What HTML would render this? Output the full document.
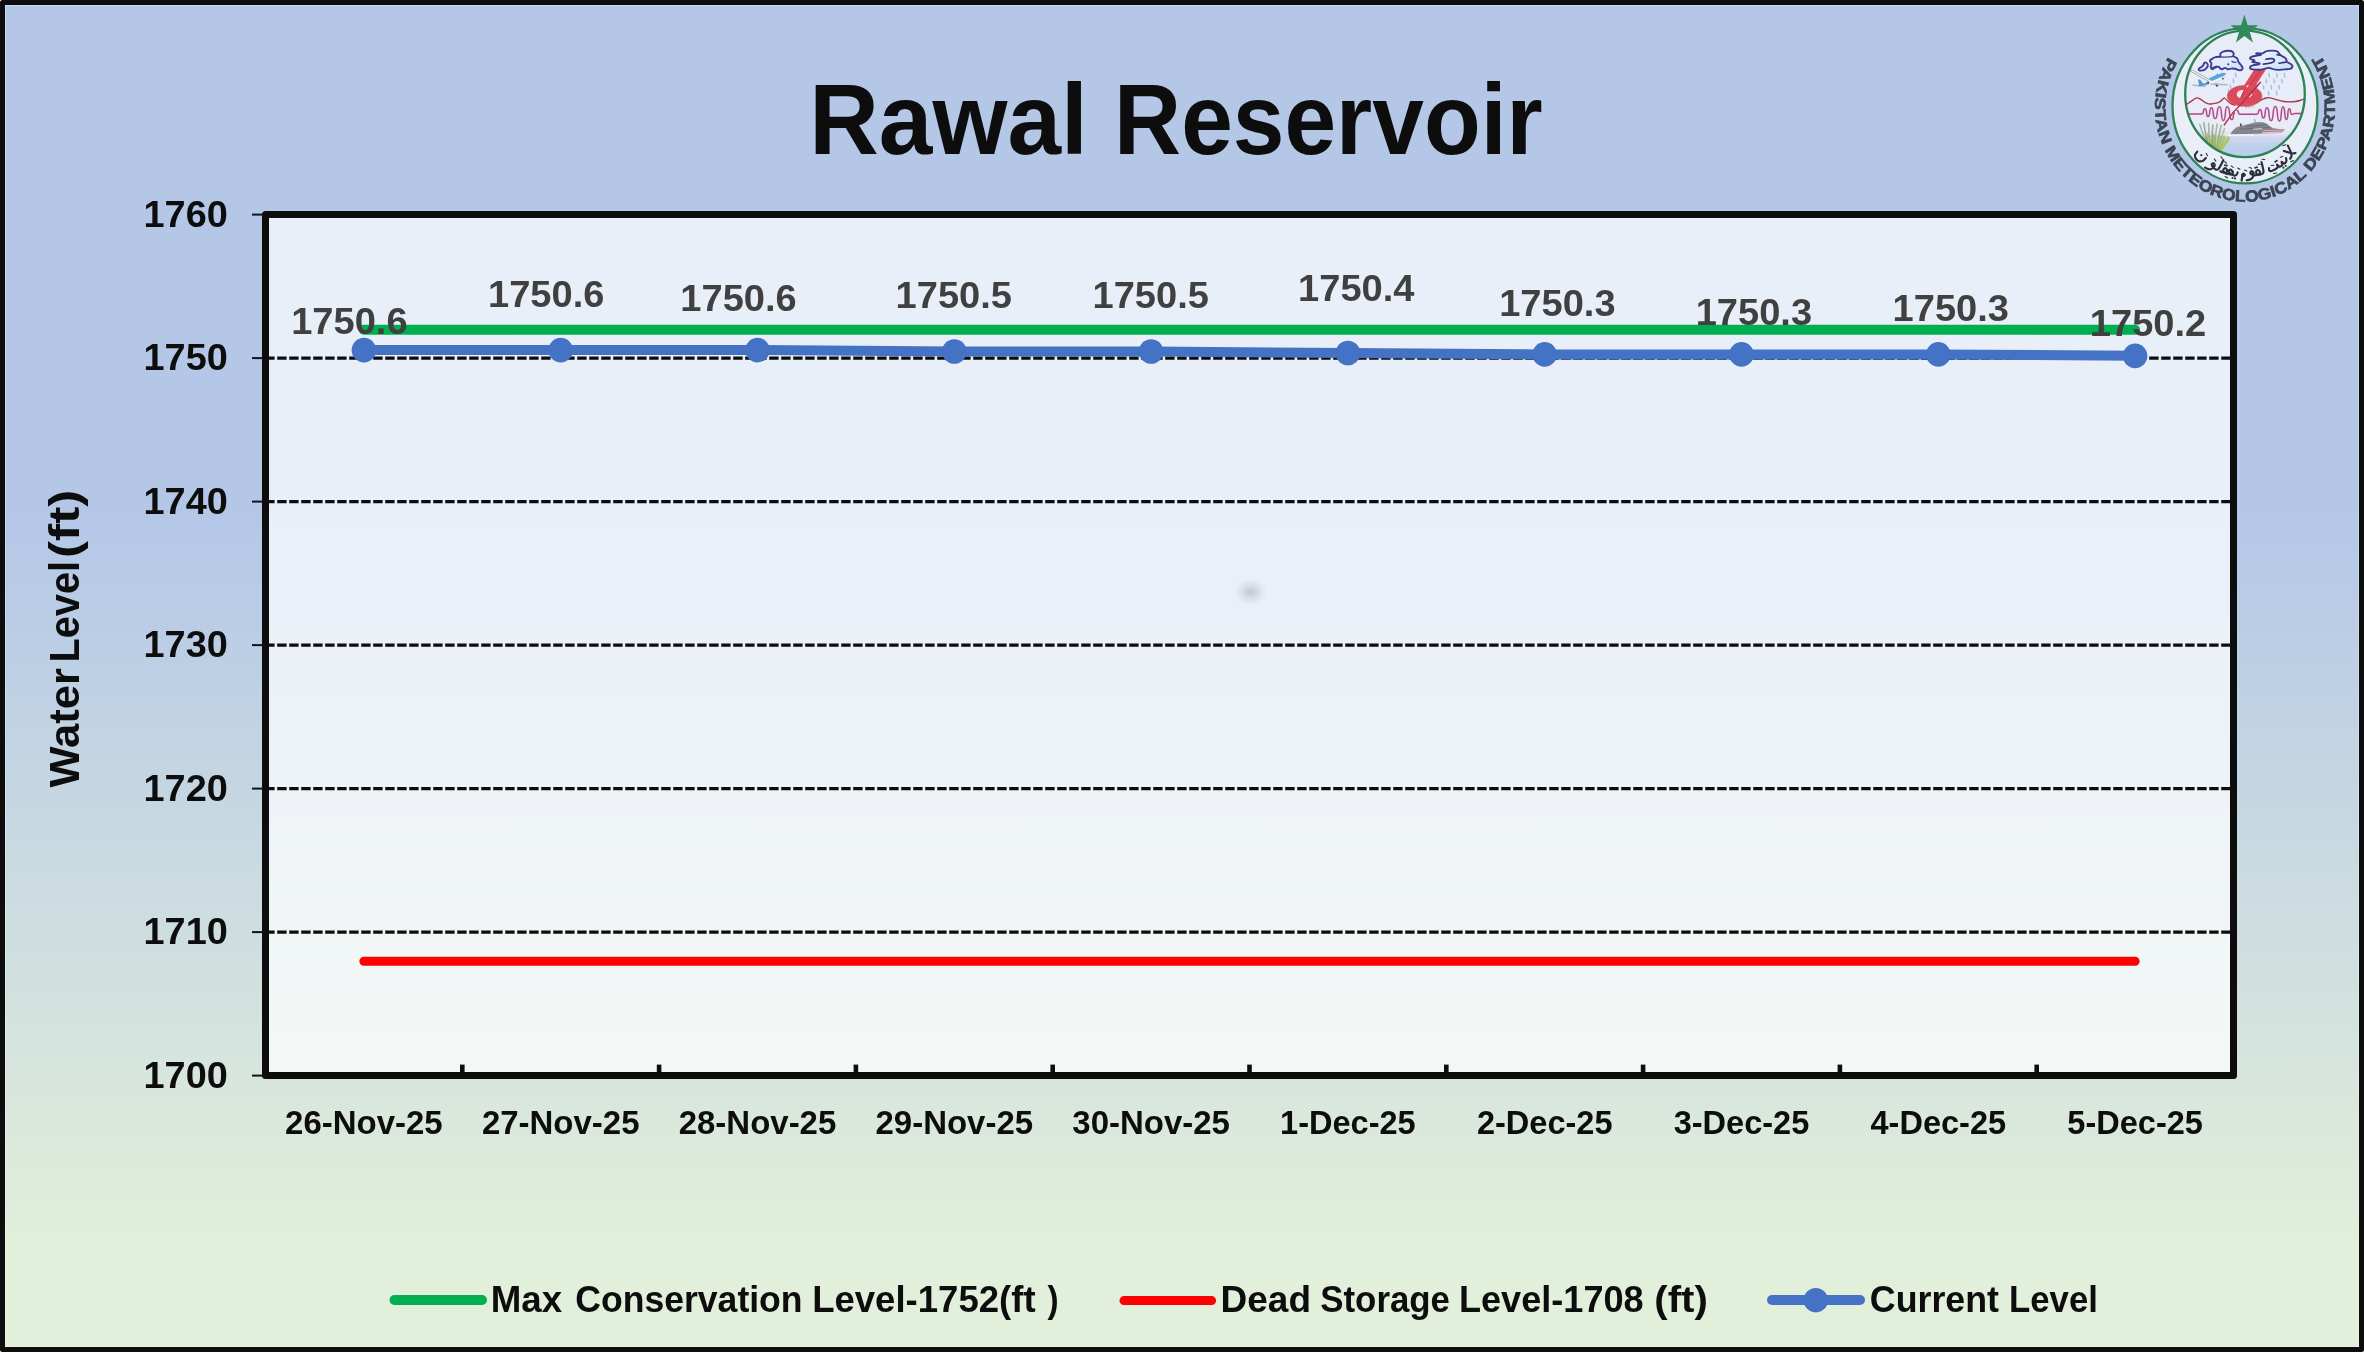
<!DOCTYPE html>
<html lang="en"><head><meta charset="utf-8"><title>Rawal Reservoir</title>
<style>
html,body{margin:0;padding:0;background:#0d0d0d;}
body{width:2364px;height:1352px;overflow:hidden;font-family:"Liberation Sans", sans-serif;}
svg{display:block;will-change:transform;}
text{font-family:"Liberation Sans", sans-serif;font-weight:bold;}
</style></head><body>
<svg width="2364" height="1352" viewBox="0 0 2364 1352">
<defs>
<linearGradient id="bg" x1="0" y1="0" x2="0" y2="1">
<stop offset="0" stop-color="#b4c7e7"/>
<stop offset="0.38" stop-color="#b4c7e7"/>
<stop offset="0.93" stop-color="#e2efda"/>
<stop offset="1" stop-color="#e2efda"/>
</linearGradient>
<radialGradient id="smudge" cx="0.5" cy="0.5" r="0.5">
<stop offset="0" stop-color="#a9adb8" stop-opacity="0.62"/>
<stop offset="0.45" stop-color="#b4b8c4" stop-opacity="0.36"/>
<stop offset="1" stop-color="#c8ccd6" stop-opacity="0"/>
</radialGradient>
<filter id="blur3" x="-5%" y="-5%" width="110%" height="110%"><feGaussianBlur stdDeviation="0.3"/></filter>
<filter id="blur7" x="-20%" y="-20%" width="140%" height="140%"><feGaussianBlur stdDeviation="0.7"/></filter>
<filter id="blur4" x="-5%" y="-5%" width="110%" height="110%"><feGaussianBlur stdDeviation="0.42"/></filter>
<clipPath id="innerclip"><ellipse cx="2245" cy="93.9" rx="59.8" ry="63.3"/></clipPath>
<linearGradient id="water" x1="0" y1="0" x2="0" y2="1">
<stop offset="0" stop-color="#d6d9ee"/>
<stop offset="0.5" stop-color="#bcd0ec"/>
<stop offset="1" stop-color="#b4ceec"/>
</linearGradient>
<linearGradient id="cloudfill" x1="0" y1="0" x2="1" y2="1">
<stop offset="0" stop-color="#eef2fd"/>
<stop offset="0.55" stop-color="#dfeafa"/>
<stop offset="1" stop-color="#c2e0f5"/>
</linearGradient>
</defs>

<rect x="0" y="0" width="2364" height="1352" fill="#ffffff"/>
<rect x="0" y="0" width="2364" height="1352" rx="2.5" fill="#0d0d0d"/>
<rect x="5" y="5" width="2354" height="1342" fill="url(#bg)"/>
<rect x="5.5" y="5.5" width="2353" height="1341" fill="none" stroke="#ffffff" stroke-opacity="0.28" stroke-width="1"/>
<rect x="265.5" y="214.6" width="1968.0" height="860.9999999999999" fill="#ffffff" fill-opacity="0.71"/>
<line x1="265.2" y1="358.10" x2="2230.0" y2="358.10" stroke="#0d0d0d" stroke-width="3.2" stroke-dasharray="9.4 2.6"/>
<line x1="265.2" y1="501.60" x2="2230.0" y2="501.60" stroke="#0d0d0d" stroke-width="3.2" stroke-dasharray="9.4 2.6"/>
<line x1="265.2" y1="645.10" x2="2230.0" y2="645.10" stroke="#0d0d0d" stroke-width="3.2" stroke-dasharray="9.4 2.6"/>
<line x1="265.2" y1="788.60" x2="2230.0" y2="788.60" stroke="#0d0d0d" stroke-width="3.2" stroke-dasharray="9.4 2.6"/>
<line x1="265.2" y1="932.10" x2="2230.0" y2="932.10" stroke="#0d0d0d" stroke-width="3.2" stroke-dasharray="9.4 2.6"/>
<ellipse cx="1250.6" cy="592" rx="17" ry="14" fill="url(#smudge)"/>
<rect x="265.5" y="214.6" width="1968.0" height="860.9999999999999" fill="none" stroke="#0d0d0d" stroke-width="7" stroke-linejoin="round"/>
<line x1="252" y1="1075.60" x2="263" y2="1075.60" stroke="#10131c" stroke-width="2"/>
<line x1="252" y1="932.10" x2="263" y2="932.10" stroke="#10131c" stroke-width="2"/>
<line x1="252" y1="788.60" x2="263" y2="788.60" stroke="#10131c" stroke-width="2"/>
<line x1="252" y1="645.10" x2="263" y2="645.10" stroke="#10131c" stroke-width="2"/>
<line x1="252" y1="501.60" x2="263" y2="501.60" stroke="#10131c" stroke-width="2"/>
<line x1="252" y1="358.10" x2="263" y2="358.10" stroke="#10131c" stroke-width="2"/>
<line x1="252" y1="214.60" x2="263" y2="214.60" stroke="#10131c" stroke-width="2"/>
<line x1="462.30" y1="1064.6" x2="462.30" y2="1073" stroke="#0d0d0d" stroke-width="4.6"/>
<line x1="659.10" y1="1064.6" x2="659.10" y2="1073" stroke="#0d0d0d" stroke-width="4.6"/>
<line x1="855.90" y1="1064.6" x2="855.90" y2="1073" stroke="#0d0d0d" stroke-width="4.6"/>
<line x1="1052.70" y1="1064.6" x2="1052.70" y2="1073" stroke="#0d0d0d" stroke-width="4.6"/>
<line x1="1249.50" y1="1064.6" x2="1249.50" y2="1073" stroke="#0d0d0d" stroke-width="4.6"/>
<line x1="1446.30" y1="1064.6" x2="1446.30" y2="1073" stroke="#0d0d0d" stroke-width="4.6"/>
<line x1="1643.10" y1="1064.6" x2="1643.10" y2="1073" stroke="#0d0d0d" stroke-width="4.6"/>
<line x1="1839.90" y1="1064.6" x2="1839.90" y2="1073" stroke="#0d0d0d" stroke-width="4.6"/>
<line x1="2036.70" y1="1064.6" x2="2036.70" y2="1073" stroke="#0d0d0d" stroke-width="4.6"/>
<line x1="363.90" y1="329.80" x2="2135.10" y2="329.80" stroke="#00b050" stroke-width="10" stroke-linecap="round"/>
<line x1="363.90" y1="961.30" x2="2135.10" y2="961.30" stroke="#ff0000" stroke-width="9" stroke-linecap="round"/>
<polyline fill="none" stroke="#4472c4" stroke-width="10" stroke-linecap="round" stroke-linejoin="round" points="363.90,350.09 560.70,350.09 757.50,350.09 954.30,351.52 1151.10,351.52 1347.90,352.96 1544.70,354.40 1741.50,354.40 1938.30,354.40 2135.10,355.83"/>
<circle cx="363.90" cy="350.09" r="12.3" fill="#4472c4"/>
<circle cx="560.70" cy="350.09" r="12.3" fill="#4472c4"/>
<circle cx="757.50" cy="350.09" r="12.3" fill="#4472c4"/>
<circle cx="954.30" cy="351.52" r="12.3" fill="#4472c4"/>
<circle cx="1151.10" cy="351.52" r="12.3" fill="#4472c4"/>
<circle cx="1347.90" cy="352.96" r="12.3" fill="#4472c4"/>
<circle cx="1544.70" cy="354.40" r="12.3" fill="#4472c4"/>
<circle cx="1741.50" cy="354.40" r="12.3" fill="#4472c4"/>
<circle cx="1938.30" cy="354.40" r="12.3" fill="#4472c4"/>
<circle cx="2135.10" cy="355.83" r="12.3" fill="#4472c4"/>
<text x="809.24" y="154.20" font-size="100.3" fill="#0d0d0d" text-anchor="start" textLength="278.57" lengthAdjust="spacingAndGlyphs">Rawal</text>
<text x="1114.08" y="154.20" font-size="100.3" fill="#0d0d0d" text-anchor="start" textLength="428.54" lengthAdjust="spacingAndGlyphs">Reservoir</text>
<text x="227.80" y="1087.60" font-size="37.6" fill="#0d0d0d" text-anchor="end" textLength="84.30" lengthAdjust="spacingAndGlyphs">1700</text>
<text x="227.80" y="944.10" font-size="37.6" fill="#0d0d0d" text-anchor="end" textLength="84.30" lengthAdjust="spacingAndGlyphs">1710</text>
<text x="227.80" y="800.60" font-size="37.6" fill="#0d0d0d" text-anchor="end" textLength="84.30" lengthAdjust="spacingAndGlyphs">1720</text>
<text x="227.80" y="657.10" font-size="37.6" fill="#0d0d0d" text-anchor="end" textLength="84.30" lengthAdjust="spacingAndGlyphs">1730</text>
<text x="227.80" y="513.60" font-size="37.6" fill="#0d0d0d" text-anchor="end" textLength="84.30" lengthAdjust="spacingAndGlyphs">1740</text>
<text x="227.80" y="370.10" font-size="37.6" fill="#0d0d0d" text-anchor="end" textLength="84.30" lengthAdjust="spacingAndGlyphs">1750</text>
<text x="227.80" y="226.60" font-size="37.6" fill="#0d0d0d" text-anchor="end" textLength="84.30" lengthAdjust="spacingAndGlyphs">1760</text>
<text x="363.90" y="1133.80" font-size="33" fill="#0d0d0d" text-anchor="middle" textLength="157.60" lengthAdjust="spacingAndGlyphs">26-Nov-25</text>
<text x="560.70" y="1133.80" font-size="33" fill="#0d0d0d" text-anchor="middle" textLength="157.60" lengthAdjust="spacingAndGlyphs">27-Nov-25</text>
<text x="757.50" y="1133.80" font-size="33" fill="#0d0d0d" text-anchor="middle" textLength="157.60" lengthAdjust="spacingAndGlyphs">28-Nov-25</text>
<text x="954.30" y="1133.80" font-size="33" fill="#0d0d0d" text-anchor="middle" textLength="157.60" lengthAdjust="spacingAndGlyphs">29-Nov-25</text>
<text x="1151.10" y="1133.80" font-size="33" fill="#0d0d0d" text-anchor="middle" textLength="157.60" lengthAdjust="spacingAndGlyphs">30-Nov-25</text>
<text x="1347.90" y="1133.80" font-size="33" fill="#0d0d0d" text-anchor="middle" textLength="135.60" lengthAdjust="spacingAndGlyphs">1-Dec-25</text>
<text x="1544.70" y="1133.80" font-size="33" fill="#0d0d0d" text-anchor="middle" textLength="135.60" lengthAdjust="spacingAndGlyphs">2-Dec-25</text>
<text x="1741.50" y="1133.80" font-size="33" fill="#0d0d0d" text-anchor="middle" textLength="135.60" lengthAdjust="spacingAndGlyphs">3-Dec-25</text>
<text x="1938.30" y="1133.80" font-size="33" fill="#0d0d0d" text-anchor="middle" textLength="135.60" lengthAdjust="spacingAndGlyphs">4-Dec-25</text>
<text x="2135.10" y="1133.80" font-size="33" fill="#0d0d0d" text-anchor="middle" textLength="135.60" lengthAdjust="spacingAndGlyphs">5-Dec-25</text>
<text x="349.40" y="333.90" font-size="37" fill="#404040" text-anchor="middle" textLength="116.40" lengthAdjust="spacingAndGlyphs">1750.6</text>
<text x="546.20" y="306.90" font-size="37" fill="#404040" text-anchor="middle" textLength="116.40" lengthAdjust="spacingAndGlyphs">1750.6</text>
<text x="738.50" y="310.90" font-size="37" fill="#404040" text-anchor="middle" textLength="116.40" lengthAdjust="spacingAndGlyphs">1750.6</text>
<text x="953.80" y="308.00" font-size="37" fill="#404040" text-anchor="middle" textLength="116.40" lengthAdjust="spacingAndGlyphs">1750.5</text>
<text x="1150.70" y="308.00" font-size="37" fill="#404040" text-anchor="middle" textLength="116.40" lengthAdjust="spacingAndGlyphs">1750.5</text>
<text x="1356.30" y="300.80" font-size="37" fill="#404040" text-anchor="middle" textLength="116.40" lengthAdjust="spacingAndGlyphs">1750.4</text>
<text x="1557.40" y="315.80" font-size="37" fill="#404040" text-anchor="middle" textLength="116.40" lengthAdjust="spacingAndGlyphs">1750.3</text>
<text x="1753.90" y="325.00" font-size="37" fill="#404040" text-anchor="middle" textLength="116.40" lengthAdjust="spacingAndGlyphs">1750.3</text>
<text x="1950.80" y="320.80" font-size="37" fill="#404040" text-anchor="middle" textLength="116.40" lengthAdjust="spacingAndGlyphs">1750.3</text>
<text x="2148.00" y="335.70" font-size="37" fill="#404040" text-anchor="middle" textLength="116.40" lengthAdjust="spacingAndGlyphs">1750.2</text>
<text transform="translate(78.9,788) rotate(-90)" x="0.56" y="0" font-size="43.2" fill="#0d0d0d" textLength="119.31" lengthAdjust="spacingAndGlyphs">Water</text>
<text transform="translate(78.9,788) rotate(-90)" x="125.44" y="0" font-size="43.2" fill="#0d0d0d" textLength="101.67" lengthAdjust="spacingAndGlyphs">Level</text>
<text transform="translate(78.9,788) rotate(-90)" x="230.04" y="0" font-size="43.2" fill="#0d0d0d" textLength="68.33" lengthAdjust="spacingAndGlyphs">(ft)</text>
<line x1="394.5" y1="1300" x2="482" y2="1300" stroke="#00b050" stroke-width="10" stroke-linecap="round"/>
<text x="490.74" y="1311.70" font-size="36.6" fill="#0d0d0d" text-anchor="start" textLength="71.34" lengthAdjust="spacingAndGlyphs">Max</text>
<text x="575.34" y="1311.70" font-size="36.6" fill="#0d0d0d" text-anchor="start" textLength="227.25" lengthAdjust="spacingAndGlyphs">Conservation</text>
<text x="812.15" y="1311.70" font-size="36.6" fill="#0d0d0d" text-anchor="start" textLength="223.48" lengthAdjust="spacingAndGlyphs">Level-1752(ft</text>
<text x="1047.57" y="1311.70" font-size="36.6" fill="#0d0d0d" text-anchor="start" textLength="11.10" lengthAdjust="spacingAndGlyphs">)</text>
<line x1="1124" y1="1300.6" x2="1211.6" y2="1300.6" stroke="#ff0000" stroke-width="9" stroke-linecap="round"/>
<text x="1220.62" y="1311.70" font-size="36.6" fill="#0d0d0d" text-anchor="start" textLength="90.41" lengthAdjust="spacingAndGlyphs">Dead</text>
<text x="1320.29" y="1311.70" font-size="36.6" fill="#0d0d0d" text-anchor="start" textLength="129.70" lengthAdjust="spacingAndGlyphs">Storage</text>
<text x="1458.98" y="1311.70" font-size="36.6" fill="#0d0d0d" text-anchor="start" textLength="184.73" lengthAdjust="spacingAndGlyphs">Level-1708</text>
<text x="1654.29" y="1311.70" font-size="36.6" fill="#0d0d0d" text-anchor="start" textLength="53.52" lengthAdjust="spacingAndGlyphs">(ft)</text>
<line x1="1772" y1="1300" x2="1860" y2="1300" stroke="#4472c4" stroke-width="10" stroke-linecap="round"/>
<circle cx="1815.8" cy="1300.2" r="12.2" fill="#4472c4"/>
<text x="1869.83" y="1311.70" font-size="36.6" fill="#0d0d0d" text-anchor="start" textLength="129.19" lengthAdjust="spacingAndGlyphs">Current</text>
<text x="2009.07" y="1311.70" font-size="36.6" fill="#0d0d0d" text-anchor="start" textLength="88.88" lengthAdjust="spacingAndGlyphs">Level</text>
<g id="logo">
<g transform="translate(2245,106.7) scale(1,1.055)">
<path id="ringpath" d="M-76.74,-47.02A90,90 0 1 0 75.48,-49.02" fill="none"/>
<text font-size="15" fill="#3a4453" stroke="#3a4453" stroke-width="0.6" filter="url(#blur3)"><textPath href="#ringpath" startOffset="0" textLength="384" lengthAdjust="spacingAndGlyphs">PAKISTAN METEOROLOGICAL DEPARTMENT</textPath></text>
</g>
<ellipse cx="2245" cy="105.8" rx="72.5" ry="77.6" fill="#eef1f9" fill-opacity="0.93" stroke="#2c8254" stroke-width="2.3"/>
<ellipse cx="2245" cy="93.9" rx="59.8" ry="63.3" fill="#e8ecf8"/>
<g clip-path="url(#innerclip)"><g filter="url(#blur4)">
<rect x="2180" y="135.5" width="130" height="24" fill="url(#water)"/>
<rect x="2180" y="131" width="130" height="6" fill="#dcdff0" fill-opacity="0.6"/>
<g filter="url(#blur7)">
<path d="M2204,138C2208,134 2222,134 2229,139C2228,144 2222,150 2216,152C2210,150 2205,144 2204,138Z" fill="#a9bf6a" fill-opacity="0.45"/>
<path d="M2206.5,142Q2202,133 2199.8,124.5" fill="none" stroke="#93a383" stroke-width="1.5" stroke-linecap="round" stroke-opacity="0.7"/>
<path d="M2208.5,146Q2205,134 2203.8,122.8" fill="none" stroke="#7f9470" stroke-width="1.6" stroke-linecap="round" stroke-opacity="0.7"/>
<path d="M2210.5,148Q2208.5,136 2208.6,123.4" fill="none" stroke="#8a9c7c" stroke-width="1.6" stroke-linecap="round" stroke-opacity="0.7"/>
<path d="M2212.5,149.5Q2211.5,137 2212.8,125" fill="none" stroke="#7d9468" stroke-width="1.7" stroke-linecap="round" stroke-opacity="0.7"/>
<path d="M2214.5,150.5Q2214.5,138 2217.2,124" fill="none" stroke="#8ea27c" stroke-width="1.6" stroke-linecap="round" stroke-opacity="0.7"/>
<path d="M2216.5,151Q2217.5,139 2221.2,125.5" fill="none" stroke="#86996f" stroke-width="1.6" stroke-linecap="round" stroke-opacity="0.7"/>
<path d="M2218,150.5Q2220,140 2224.6,128.5" fill="none" stroke="#94a884" stroke-width="1.5" stroke-linecap="round" stroke-opacity="0.7"/>
<path d="M2212,150Q2210,141 2207,134" fill="none" stroke="#a2bb58" stroke-width="2.2" stroke-linecap="round" stroke-opacity="0.7"/>
<path d="M2215,151Q2214,143 2213,135" fill="none" stroke="#9ab455" stroke-width="2.4" stroke-linecap="round" stroke-opacity="0.7"/>
<path d="M2218,151Q2218.5,144 2219.5,136.5" fill="none" stroke="#a8c052" stroke-width="2.6" stroke-linecap="round" stroke-opacity="0.7"/>
<path d="M2220.5,150Q2222,143 2224.5,137" fill="none" stroke="#a4bc58" stroke-width="2.2" stroke-linecap="round" stroke-opacity="0.7"/>
<path d="M2222,148.5Q2225.5,143 2229,138.5" fill="none" stroke="#aac44e" stroke-width="2.8" stroke-linecap="round" stroke-opacity="0.7"/>
<path d="M2223,146.5Q2226.5,141 2228,136.5" fill="none" stroke="#b3c860" stroke-width="2.0" stroke-linecap="round" stroke-opacity="0.7"/>
</g>
<path d="M2231,133.6L2233,130.6L2236.5,127.6L2243,125.8L2249.1,124.3L2254,123L2259.8,122.3L2264,122.7L2266.8,124.1L2270,126.6L2272.8,128.4L2278,129.3L2284.9,129.7L2281.2,132.5L2262,133.3L2245,134.3L2231,134.9Z" fill="#80868b" stroke="#80868b" stroke-width="0.6" stroke-linejoin="round"/>
<path d="M2263,130.2L2284.9,129.7L2281.2,132.7L2262,133.5Z" fill="#dbc8d2"/>
<path d="M2262.6,131.5L2283,130.9" stroke="#c5525e" stroke-width="0.9" fill="none"/>
<path d="M2227.5,135.1L2254,134.9" stroke="#f3f4fa" stroke-width="1.7" fill="none"/>
<path d="M2253,128.9L2262.2,128.5" stroke="#e6e9ee" stroke-width="1.3" fill="none"/>
<path d="M2254.2,119L2255.6,122.6" stroke="#767c80" stroke-width="0.8" fill="none"/>
<path d="M2240.7,123.5L2240.9,126.4" stroke="#3c4148" stroke-width="1.5" fill="none"/>
<path d="M2246,126.6L2266,124.8M2240,129.2L2270,127.4" stroke="#5f6669" stroke-width="0.7" fill="none"/>
<path d="M2186,113.9C2198.32,113.9 2189.48,113.9 2201.8,113.9C2204.3,113.9 2202.5,108.7 2205,108.7C2207.34,108.7 2205.66,116.6 2208,116.6C2210.73,116.6 2208.77,107.7 2211.5,107.7C2214.23,107.7 2212.27,118.6 2215,118.6C2218.51,118.6 2215.99,106.8 2219.5,106.8C2222.54,106.8 2220.36,120.6 2223.4,120.6C2226.36,120.6 2224.24,106.8 2227.2,106.8C2230.94,106.8 2228.26,119.6 2232,119.6C2234.03,119.6 2232.57,113 2234.6,113" fill="none" stroke="#f8dcf0" stroke-width="3" stroke-linecap="round"/>
<path d="M2237.2,110.6C2238.99,110.6 2237.71,114.2 2239.5,114.2C2253.15,114.2 2243.35,114.2 2257,114.2C2259.34,114.2 2257.66,109.6 2260,109.6C2262.65,109.6 2260.75,118 2263.4,118C2266.21,118 2264.19,107.8 2267,107.8C2270.12,107.8 2267.88,120.6 2271,120.6C2274.35,120.6 2271.95,106.6 2275.3,106.6C2278.58,106.6 2276.22,121 2279.5,121C2282.23,121 2280.27,106.8 2283,106.8C2285.73,106.8 2283.77,119.4 2286.5,119.4C2288.61,119.4 2287.09,108.8 2289.2,108.8C2291.31,108.8 2289.79,114.4 2291.9,114.4C2294.32,114.4 2292.58,113.4 2295,113.4C2302.8,113.4 2297.2,113.4 2305,113.4" fill="none" stroke="#f8dcf0" stroke-width="3" stroke-linecap="round"/>
<path d="M2186,113.9C2198.32,113.9 2189.48,113.9 2201.8,113.9C2204.3,113.9 2202.5,108.7 2205,108.7C2207.34,108.7 2205.66,116.6 2208,116.6C2210.73,116.6 2208.77,107.7 2211.5,107.7C2214.23,107.7 2212.27,118.6 2215,118.6C2218.51,118.6 2215.99,106.8 2219.5,106.8C2222.54,106.8 2220.36,120.6 2223.4,120.6C2226.36,120.6 2224.24,106.8 2227.2,106.8C2230.94,106.8 2228.26,119.6 2232,119.6C2234.03,119.6 2232.57,113 2234.6,113" fill="none" stroke="#a3508a" stroke-width="1.5" stroke-linecap="round"/>
<path d="M2237.2,110.6C2238.99,110.6 2237.71,114.2 2239.5,114.2C2253.15,114.2 2243.35,114.2 2257,114.2C2259.34,114.2 2257.66,109.6 2260,109.6C2262.65,109.6 2260.75,118 2263.4,118C2266.21,118 2264.19,107.8 2267,107.8C2270.12,107.8 2267.88,120.6 2271,120.6C2274.35,120.6 2271.95,106.6 2275.3,106.6C2278.58,106.6 2276.22,121 2279.5,121C2282.23,121 2280.27,106.8 2283,106.8C2285.73,106.8 2283.77,119.4 2286.5,119.4C2288.61,119.4 2287.09,108.8 2289.2,108.8C2291.31,108.8 2289.79,114.4 2291.9,114.4C2294.32,114.4 2292.58,113.4 2295,113.4C2302.8,113.4 2297.2,113.4 2305,113.4" fill="none" stroke="#a3508a" stroke-width="1.5" stroke-linecap="round"/>
<path d="M2184.5,105.6C2185.25,105.13 2187.5,103.8 2189,102.8C2190.5,101.8 2192.13,100.43 2193.5,99.6C2194.87,98.77 2195.95,97.8 2197.2,97.8C2198.45,97.8 2199.7,98.83 2201,99.6C2202.3,100.37 2203.73,101.68 2205,102.4C2206.27,103.12 2207.27,103.68 2208.6,103.9C2209.93,104.12 2211.45,103.9 2213,103.7C2214.55,103.5 2216.48,103.25 2217.9,102.7C2219.32,102.15 2220.43,101.17 2221.5,100.4C2222.57,99.63 2223.3,98.03 2224.3,98.1C2225.3,98.17 2226.38,99.88 2227.5,100.8C2228.62,101.72 2229.75,102.87 2231,103.6C2232.25,104.33 2234.33,104.93 2235,105.2" fill="none" stroke="#a63a4c" stroke-width="1.35" stroke-linecap="round" stroke-linejoin="round"/>
<path d="M2256,102.6C2256.62,102.32 2258.53,101.47 2259.7,100.9C2260.87,100.33 2261.95,99.68 2263,99.2C2264.05,98.72 2265.08,98.27 2266,98C2266.92,97.73 2267.5,97.55 2268.5,97.6C2269.5,97.65 2270.75,97.97 2272,98.3C2273.25,98.63 2274.67,99.22 2276,99.6C2277.33,99.98 2278.67,100.28 2280,100.6C2281.33,100.92 2282.33,101.3 2284,101.5C2285.67,101.7 2288.1,101.8 2290,101.8C2291.9,101.8 2293.73,101.72 2295.4,101.5C2297.07,101.28 2298.4,100.95 2300,100.5C2301.6,100.05 2304.17,99.08 2305,98.8" fill="none" stroke="#a63a4c" stroke-width="1.35" stroke-linecap="round" stroke-linejoin="round"/>
<ellipse cx="2269.2" cy="75.2" rx="0.85" ry="2.7" fill="#a3c2e6" transform="rotate(-6 2269.2 75.2)"/>
<ellipse cx="2277" cy="75.2" rx="0.85" ry="2.7" fill="#a3c2e6" transform="rotate(-6 2277 75.2)"/>
<ellipse cx="2284.6" cy="75.2" rx="0.85" ry="2.7" fill="#a3c2e6" transform="rotate(-6 2284.6 75.2)"/>
<ellipse cx="2266.4" cy="81.2" rx="0.85" ry="2.7" fill="#a3c2e6" transform="rotate(-6 2266.4 81.2)"/>
<ellipse cx="2274.2" cy="81.2" rx="0.85" ry="2.7" fill="#a3c2e6" transform="rotate(-6 2274.2 81.2)"/>
<ellipse cx="2282" cy="81.2" rx="0.85" ry="2.7" fill="#a3c2e6" transform="rotate(-6 2282 81.2)"/>
<ellipse cx="2263.6" cy="87.2" rx="0.85" ry="2.7" fill="#a3c2e6" transform="rotate(-6 2263.6 87.2)"/>
<ellipse cx="2271.3" cy="87.2" rx="0.85" ry="2.7" fill="#a3c2e6" transform="rotate(-6 2271.3 87.2)"/>
<ellipse cx="2279.1" cy="87.2" rx="0.85" ry="2.7" fill="#a3c2e6" transform="rotate(-6 2279.1 87.2)"/>
<ellipse cx="2268.6" cy="93.2" rx="0.85" ry="2.7" fill="#a3c2e6" transform="rotate(-6 2268.6 93.2)"/>
<ellipse cx="2276.6" cy="93.2" rx="0.85" ry="2.7" fill="#a3c2e6" transform="rotate(-6 2276.6 93.2)"/>
<ellipse cx="2235.7" cy="75" rx="0.85" ry="2.7" fill="#a3c2e6" transform="rotate(-6 2235.7 75)"/>
<ellipse cx="2233.4" cy="81" rx="0.85" ry="2.7" fill="#a3c2e6" transform="rotate(-6 2233.4 81)"/>
<ellipse cx="2230.4" cy="86.6" rx="0.85" ry="2.7" fill="#a3c2e6" transform="rotate(-6 2230.4 86.6)"/>
<ellipse cx="2228.6" cy="91.4" rx="0.85" ry="2.7" fill="#a3c2e6" transform="rotate(-6 2228.6 91.4)"/>
<path d="M2220.4,56.8C2220.75,56.28 2219.93,54.5 2220.5,53.6C2221.07,52.7 2222.45,51.87 2223.8,51.4C2225.15,50.93 2227.17,50.77 2228.6,50.8C2230.03,50.83 2231.53,51.07 2232.4,51.6C2233.27,52.13 2233.65,53.22 2233.8,54C2233.95,54.78 2232.77,55.6 2233.3,56.3C2233.83,57 2236.15,57.3 2237,58.2C2237.85,59.1 2237.82,60.65 2238.4,61.7C2238.98,62.75 2239.8,63.48 2240.5,64.5C2241.2,65.52 2242.42,66.9 2242.6,67.8C2242.78,68.7 2242.28,69.52 2241.6,69.9C2240.92,70.28 2239.6,70.28 2238.5,70.1C2237.4,69.92 2236.18,69.05 2235,68.8C2233.82,68.55 2232.57,68.52 2231.4,68.6C2230.23,68.68 2229.07,69.42 2228,69.3C2226.93,69.18 2225.92,67.92 2225,67.9C2224.08,67.88 2223.28,69.08 2222.5,69.2C2221.72,69.32 2220.95,69.03 2220.3,68.6C2219.65,68.17 2219.48,66.75 2218.6,66.6C2217.72,66.45 2216.07,67.27 2215,67.7C2213.93,68.13 2212.92,69.32 2212.2,69.2C2211.48,69.08 2210.82,67.93 2210.7,67C2210.58,66.07 2211.63,64.63 2211.5,63.6C2211.37,62.57 2209.73,61.63 2209.9,60.8C2210.07,59.97 2211.57,59.2 2212.5,58.6C2213.43,58 2214.52,57.52 2215.5,57.2C2216.48,56.88 2217.58,56.77 2218.4,56.7C2219.22,56.63 2220.05,57.32 2220.4,56.8Z" fill="url(#cloudfill)" stroke="#3d3a92" stroke-width="1.9" stroke-linejoin="round"/>
<path d="M2220.6,56.9C2224,57.3 2230,57.1 2233.2,56.4" fill="none" stroke="#3f3b95" stroke-width="1.3"/>
<path d="M2211.3,67.6L2216.3,65.6L2219,66.8L2213,69Z" fill="#3f3b95"/>
<path d="M2231.9,61.2C2233.4,62.6 2234.8,62.7 2236,62.2" fill="none" stroke="#3f3b95" stroke-width="1.2" stroke-linecap="round"/>
<circle cx="2228.3" cy="64.2" r="0.95" fill="#2f3470"/>
<path d="M2198.8,68.8C2199.13,68.3 2200.3,67.73 2201,67.2C2201.7,66.67 2202.47,66.27 2203,65.6C2203.53,64.93 2203.77,63.73 2204.2,63.2C2204.63,62.67 2205.05,62.28 2205.6,62.4C2206.15,62.52 2207.13,63.3 2207.5,63.9C2207.87,64.5 2208.02,65.25 2207.8,66C2207.58,66.75 2206.83,67.7 2206.2,68.4C2205.57,69.1 2204.87,69.83 2204,70.2C2203.13,70.57 2201.83,70.6 2201,70.6C2200.17,70.6 2199.37,70.5 2199,70.2C2198.63,69.9 2198.47,69.3 2198.8,68.8Z" fill="#dfe6fb" stroke="#3d3a92" stroke-width="1.9" stroke-linejoin="round"/>
<path d="M2254.2,69.5L2265.9,69.5L2253.2,89.5L2242.5,88Z" fill="#da4a5c"/>
<path d="M2260.5,70.5L2247.5,88.5" stroke="#b8364a" stroke-width="0.9" fill="none"/>
<path d="M2250.8,68.8C2249.83,68.33 2249.83,67.38 2250.2,66.8C2250.57,66.22 2251.57,65.72 2253,65.3C2254.43,64.88 2257.75,64.65 2258.8,64.3C2259.85,63.95 2259.93,63.52 2259.3,63.2C2258.67,62.88 2256.17,62.6 2255,62.4C2253.83,62.2 2252.38,62.33 2252.3,62C2252.22,61.67 2254.82,60.93 2254.5,60.4C2254.18,59.87 2250.98,59.37 2250.4,58.8C2249.82,58.23 2250.07,57.5 2251,57C2251.93,56.5 2254.33,56.13 2256,55.8C2257.67,55.47 2260.92,55.3 2261,55C2261.08,54.7 2257.17,54.3 2256.5,54C2255.83,53.7 2255.97,53.3 2257,53.2C2258.03,53.1 2261.37,53.63 2262.7,53.4C2264.03,53.17 2264.17,52.22 2265,51.8C2265.83,51.38 2266.62,51.1 2267.7,50.9C2268.78,50.7 2270.2,50.6 2271.5,50.6C2272.8,50.6 2274.42,50.67 2275.5,50.9C2276.58,51.13 2277.37,51.52 2278,52C2278.63,52.48 2278.65,53.12 2279.3,53.8C2279.95,54.48 2281.03,55.5 2281.9,56.1C2282.77,56.7 2283.77,56.88 2284.5,57.4C2285.23,57.92 2285.88,58.43 2286.3,59.2C2286.72,59.97 2286.38,61.28 2287,62C2287.62,62.72 2289.12,62.9 2290,63.5C2290.88,64.1 2291.97,64.92 2292.3,65.6C2292.63,66.28 2292.38,67.07 2292,67.6C2291.62,68.13 2291.17,68.5 2290,68.8C2288.83,69.1 2286.67,69.23 2285,69.4C2283.33,69.57 2281.58,69.75 2280,69.8C2278.42,69.85 2276.83,69.9 2275.5,69.7C2274.17,69.5 2273.07,68.92 2272,68.6C2270.93,68.28 2270.1,67.83 2269.1,67.8C2268.1,67.77 2267.3,68.1 2266,68.4C2264.7,68.7 2262.97,69.4 2261.3,69.6C2259.63,69.8 2257.75,69.73 2256,69.6C2254.25,69.47 2251.77,69.27 2250.8,68.8Z" fill="url(#cloudfill)" stroke="#3a3a8c" stroke-width="1.85" stroke-linejoin="round"/>
<path d="M2265.9,59.3C2270,58.1 2274.6,58.5 2274.4,60.6C2274.1,62.9 2268,63.7 2263.4,64.2" fill="none" stroke="#34367e" stroke-width="1.7" stroke-linecap="round"/>
<path d="M2279,63.2L2286,62.1" fill="none" stroke="#34367e" stroke-width="1.6" stroke-linecap="round"/>
<path d="M2277,54.6L2279.6,55.2" fill="none" stroke="#34367e" stroke-width="1.6" stroke-linecap="round"/>
<ellipse cx="2244.6" cy="95.9" rx="17.5" ry="10.6" fill="#db4a5b"/>
<ellipse cx="2244.6" cy="95.9" rx="17.5" ry="10.6" fill="none" stroke="#c4705c" stroke-opacity="0.5" stroke-width="0.8"/>
<path d="M2242.5,88L2253.2,89.5L2249,96L2240,96Z" fill="#db4a5b"/>
<path d="M2236.9,93.2C2237.6,90.6 2241.6,89.4 2244.2,90.1L2240.6,97.9C2238,97.6 2236.2,95.6 2236.9,93.2Z" fill="#f6e6ee"/>
<path d="M2244.2,90.1L2240.6,97.9" stroke="#8c3040" stroke-width="0.9" fill="none"/>
<path d="M2251.6,93.7L2252.6,94.4L2249.8,97.6L2248.9,96.8Z" fill="#f8d8de"/>
<path d="M2246,86.6L2249,84.4L2247.6,87.4Z" fill="#f8d8de"/>
<path d="M2254.5,86.5L2260.6,82L2256.2,88.2Z" fill="#c43c50"/>
<path d="M2246,106.4L2246.6,108M2248.6,106.2L2249.2,107.8M2251,105.8L2251.8,107.4M2253.4,105.2L2254.2,106.6" stroke="#c05060" stroke-width="0.7" fill="none"/>
<path d="M2260.6,82.2L2240.8,104.4L2233.3,112.2L2224.2,125" fill="none" stroke="#b32c42" stroke-width="1.3" stroke-linecap="round" stroke-linejoin="round"/>
<path d="M2191.4,70.6L2217.2,85.2" stroke="#9b9ea4" stroke-width="2.6" stroke-linecap="round" fill="none"/>
<path d="M2191.8,70.7L2216.8,84.9" stroke="#f4f5f8" stroke-width="1.2" stroke-linecap="round" fill="none"/>
<path d="M2193.2,85.2L2205.5,86.3M2211,84L2227,84.7" stroke="#b4b6ba" stroke-width="1.6" stroke-linecap="round" fill="none"/>
<path d="M2198,79.4L2200.2,79.8L2203.4,83.8L2208,81.8L2209,84.2L2199.2,86.6Z" fill="#4f9bd6"/>
<path d="M2207,81.6L2224.6,75.4L2222.8,79.2L2212,83.8Z" fill="#f2f4f9" stroke="#c8ccd4" stroke-width="0.5"/>
<path d="M2208.6,78.4L2216,75L2217.4,73.4L2218.6,74.2L2222,72.7L2226.2,73.1L2224.6,75.6L2212,80.9Z" fill="#58a6e0"/>
<circle cx="2208.2" cy="82.5" r="0.9" fill="#2b3142"/><circle cx="2216.9" cy="85.7" r="0.9" fill="#2b3142"/><circle cx="2222.9" cy="78.6" r="0.85" fill="#2b3142"/>
</g></g>
<ellipse cx="2245" cy="93.9" rx="59.8" ry="63.3" fill="none" stroke="#2c8254" stroke-width="2.3"/>
<path d="M2244.4,14.4L2247.66,25.18L2258.19,25.18L2249.67,31.84L2252.92,42.62L2244.4,35.96L2235.88,42.62L2239.13,31.84L2230.61,25.18L2241.14,25.18Z" fill="#2f8a5a"/>
<path d="M2287.81,145.51C2288.27,146.49 2289.93,149.63 2290.55,151.4C2291.16,153.16 2291.56,154.89 2291.49,156.11C2291.43,157.33 2290.37,158.28 2290.15,158.72" fill="none" stroke="#2a2f38" stroke-width="2.15" stroke-linecap="round" stroke-linejoin="round"/>
<path d="M2283.85,150.94C2284.66,151.2 2287.26,152.09 2288.74,152.51C2290.22,152.93 2291.59,153.39 2292.71,153.47C2293.83,153.56 2294.99,153.09 2295.45,153.02" fill="none" stroke="#2a2f38" stroke-width="2.15" stroke-linecap="round" stroke-linejoin="round"/>
<path d="M2286.01,158.06C2286.07,158.56 2286.69,160.18 2286.37,161.1C2286.05,162.01 2284.89,163.45 2284.07,163.56C2283.26,163.66 2281.77,161.51 2281.47,161.72C2281.17,161.92 2282.59,164 2282.25,164.81C2281.91,165.62 2280.32,166.62 2279.44,166.57C2278.56,166.53 2277.31,164.34 2276.99,164.53C2276.67,164.71 2278.31,166.64 2277.52,167.67C2276.74,168.71 2273.63,170.23 2272.26,170.73C2270.88,171.23 2269.8,171.1 2269.27,170.68C2268.73,170.25 2269.1,168.59 2269.07,168.17" fill="none" stroke="#2a2f38" stroke-width="2.15" stroke-linecap="round" stroke-linejoin="round"/>
<path d="M2261.48,162.09C2261.73,163.14 2262.68,166.72 2263.02,168.41C2263.36,170.1 2263.63,171.33 2263.51,172.23C2263.38,173.14 2262.82,173.47 2262.26,173.83C2261.7,174.18 2260.49,174.27 2260.13,174.36" fill="none" stroke="#2a2f38" stroke-width="2.15" stroke-linecap="round" stroke-linejoin="round"/>
<path d="M2260.13,174.36C2260.07,173.86 2260.19,172.09 2259.76,171.37C2259.33,170.64 2258.17,169.89 2257.56,170.01C2256.94,170.14 2256.11,171.41 2256.07,172.13C2256.04,172.85 2256.66,173.97 2257.34,174.34C2258.02,174.71 2259.67,174.36 2260.13,174.36" fill="none" stroke="#2a2f38" stroke-width="2.15" stroke-linecap="round" stroke-linejoin="round"/>
<path d="M2260.13,174.36C2259.15,174.54 2255.2,175.28 2254.21,175.46" fill="none" stroke="#2a2f38" stroke-width="2.15" stroke-linecap="round" stroke-linejoin="round"/>
<path d="M2253.62,172.72C2253.31,172.45 2252.31,171.1 2251.76,171.13C2251.2,171.16 2250.24,172.31 2250.27,172.88C2250.29,173.45 2251.35,174.56 2251.91,174.53C2252.47,174.51 2253.48,172.28 2253.62,172.72C2253.76,173.15 2253.34,176.02 2252.75,177.16C2252.17,178.29 2251.13,178.99 2250.12,179.51C2249.11,180.03 2247.25,180.15 2246.68,180.28" fill="none" stroke="#2a2f38" stroke-width="2.15" stroke-linecap="round" stroke-linejoin="round"/>
<path d="M2244.94,174.9C2244.68,174.7 2243.84,173.66 2243.36,173.68C2242.87,173.7 2242.04,174.6 2242.03,175.03C2242.02,175.47 2242.81,176.3 2243.29,176.28C2243.78,176.26 2244.67,175.13 2244.94,174.9" fill="none" stroke="#2a2f38" stroke-width="2.15" stroke-linecap="round" stroke-linejoin="round"/>
<path d="M2242.2,176.04C2242.11,176.8 2241.75,179.86 2241.66,180.62" fill="none" stroke="#2a2f38" stroke-width="2.15" stroke-linecap="round" stroke-linejoin="round"/>
<path d="M2237.67,172.47C2237.41,172.91 2236.92,174.68 2236.15,175.11C2235.39,175.53 2233.63,175.56 2233.07,175.02C2232.51,174.49 2232.83,172.44 2232.79,171.92" fill="none" stroke="#2a2f38" stroke-width="2.15" stroke-linecap="round" stroke-linejoin="round"/>
<path d="M2232.79,171.92C2232.45,171.54 2231.45,169.83 2230.74,169.64C2230.04,169.44 2228.72,170.19 2228.55,170.73C2228.39,171.28 2229.25,172.23 2229.75,172.9C2230.26,173.56 2232.19,174.66 2231.57,174.73C2230.95,174.81 2226.96,173.58 2226.04,173.35" fill="none" stroke="#2a2f38" stroke-width="2.15" stroke-linecap="round" stroke-linejoin="round"/>
<path d="M2226.04,173.35C2226.21,172.88 2227.12,171.38 2227.09,170.53C2227.06,169.68 2226.44,168.46 2225.84,168.26C2225.24,168.07 2223.88,168.76 2223.5,169.37C2223.11,169.97 2223.09,171.25 2223.51,171.91C2223.94,172.58 2225.62,173.11 2226.04,173.35" fill="none" stroke="#2a2f38" stroke-width="2.15" stroke-linecap="round" stroke-linejoin="round"/>
<path d="M2226.04,173.35C2225.09,173.02 2221.28,171.71 2220.33,171.38" fill="none" stroke="#2a2f38" stroke-width="2.15" stroke-linecap="round" stroke-linejoin="round"/>
<path d="M2223.3,160.17C2222.81,161.14 2221.22,164.48 2220.38,165.99C2219.54,167.5 2218.94,168.6 2218.28,169.22C2217.61,169.83 2217.07,169.78 2216.39,169.67C2215.71,169.57 2214.58,168.78 2214.22,168.6" fill="none" stroke="#2a2f38" stroke-width="2.15" stroke-linecap="round" stroke-linejoin="round"/>
<path d="M2214.75,165.72C2214.65,165.32 2214.62,163.64 2214.15,163.34C2213.68,163.03 2212.21,163.41 2211.9,163.88C2211.59,164.36 2211.81,165.88 2212.29,166.19C2212.76,166.5 2214.87,165.27 2214.75,165.72C2214.62,166.17 2212.63,168.3 2211.54,168.87C2210.45,169.44 2209.29,169.34 2208.21,169.13C2207.13,168.91 2205.59,167.84 2205.06,167.58" fill="none" stroke="#2a2f38" stroke-width="2.15" stroke-linecap="round" stroke-linejoin="round"/>
<path d="M2205.88,158.03C2205.42,158.48 2204.25,160.15 2203.1,160.68C2201.96,161.21 2200.22,161.53 2199.02,161.19C2197.82,160.84 2196.59,159.63 2195.91,158.61C2195.23,157.59 2194.72,156.22 2194.95,155.07C2195.17,153.92 2196.88,152.26 2197.27,151.7" fill="none" stroke="#2a2f38" stroke-width="2.15" stroke-linecap="round" stroke-linejoin="round"/>
<circle cx="2285.81" cy="166" r="1.05" fill="#2a2f38"/>
<circle cx="2283.42" cy="167.63" r="1.05" fill="#2a2f38"/>
<circle cx="2275.31" cy="161.8" r="1.05" fill="#2a2f38"/>
<circle cx="2276.77" cy="160.71" r="1.05" fill="#2a2f38"/>
<circle cx="2235.02" cy="178.38" r="1.05" fill="#2a2f38"/>
<circle cx="2232.54" cy="177.98" r="1.05" fill="#2a2f38"/>
<circle cx="2256.99" cy="167.27" r="1.05" fill="#2a2f38"/>
<circle cx="2255.31" cy="167.8" r="1.05" fill="#2a2f38"/>
<circle cx="2226.7" cy="165.6" r="1.05" fill="#2a2f38"/>
<circle cx="2224.98" cy="165.22" r="1.05" fill="#2a2f38"/>
<circle cx="2201.3" cy="155.17" r="1.05" fill="#2a2f38"/>
<path d="M2282.75,145.77L2285.56,144.73" stroke="#2a2f38" stroke-width="1.1" stroke-linecap="round" fill="none"/>
<path d="M2290.57,161.8L2293.41,160.62" stroke="#2a2f38" stroke-width="1.1" stroke-linecap="round" fill="none"/>
<path d="M2280.2,157.23L2282.79,156.53" stroke="#2a2f38" stroke-width="1.1" stroke-linecap="round" fill="none"/>
<path d="M2271.09,165.55L2273.85,165.32" stroke="#2a2f38" stroke-width="1.1" stroke-linecap="round" fill="none"/>
<path d="M2273.47,173.47L2276.55,172.92" stroke="#2a2f38" stroke-width="1.1" stroke-linecap="round" fill="none"/>
<path d="M2262.05,159.27L2264.78,159.55" stroke="#2a2f38" stroke-width="1.1" stroke-linecap="round" fill="none"/>
<path d="M2258.23,164.12L2260.24,164.43" stroke="#2a2f38" stroke-width="1.1" stroke-linecap="round" fill="none"/>
<path d="M2249.25,167.54L2251.64,168.33" stroke="#2a2f38" stroke-width="1.1" stroke-linecap="round" fill="none"/>
<path d="M2244.45,170.1L2246.87,171.07" stroke="#2a2f38" stroke-width="1.1" stroke-linecap="round" fill="none"/>
<path d="M2237.69,168.05L2239.92,169.28" stroke="#2a2f38" stroke-width="1.1" stroke-linecap="round" fill="none"/>
<path d="M2231.25,165.85L2233.29,167.33" stroke="#2a2f38" stroke-width="1.1" stroke-linecap="round" fill="none"/>
<path d="M2224.66,161.69L2226.49,163.21" stroke="#2a2f38" stroke-width="1.1" stroke-linecap="round" fill="none"/>
<path d="M2220.92,156.75L2222.41,158.58" stroke="#2a2f38" stroke-width="1.1" stroke-linecap="round" fill="none"/>
<path d="M2214.35,159.05L2215.87,161.09" stroke="#2a2f38" stroke-width="1.1" stroke-linecap="round" fill="none"/>
<path d="M2206.21,153.65L2207.54,155.77" stroke="#2a2f38" stroke-width="1.1" stroke-linecap="round" fill="none"/>
<path d="M2225.13,176.42L2227.59,177.92" stroke="#2a2f38" stroke-width="1.1" stroke-linecap="round" fill="none"/>
</g>
</svg>
</body></html>
